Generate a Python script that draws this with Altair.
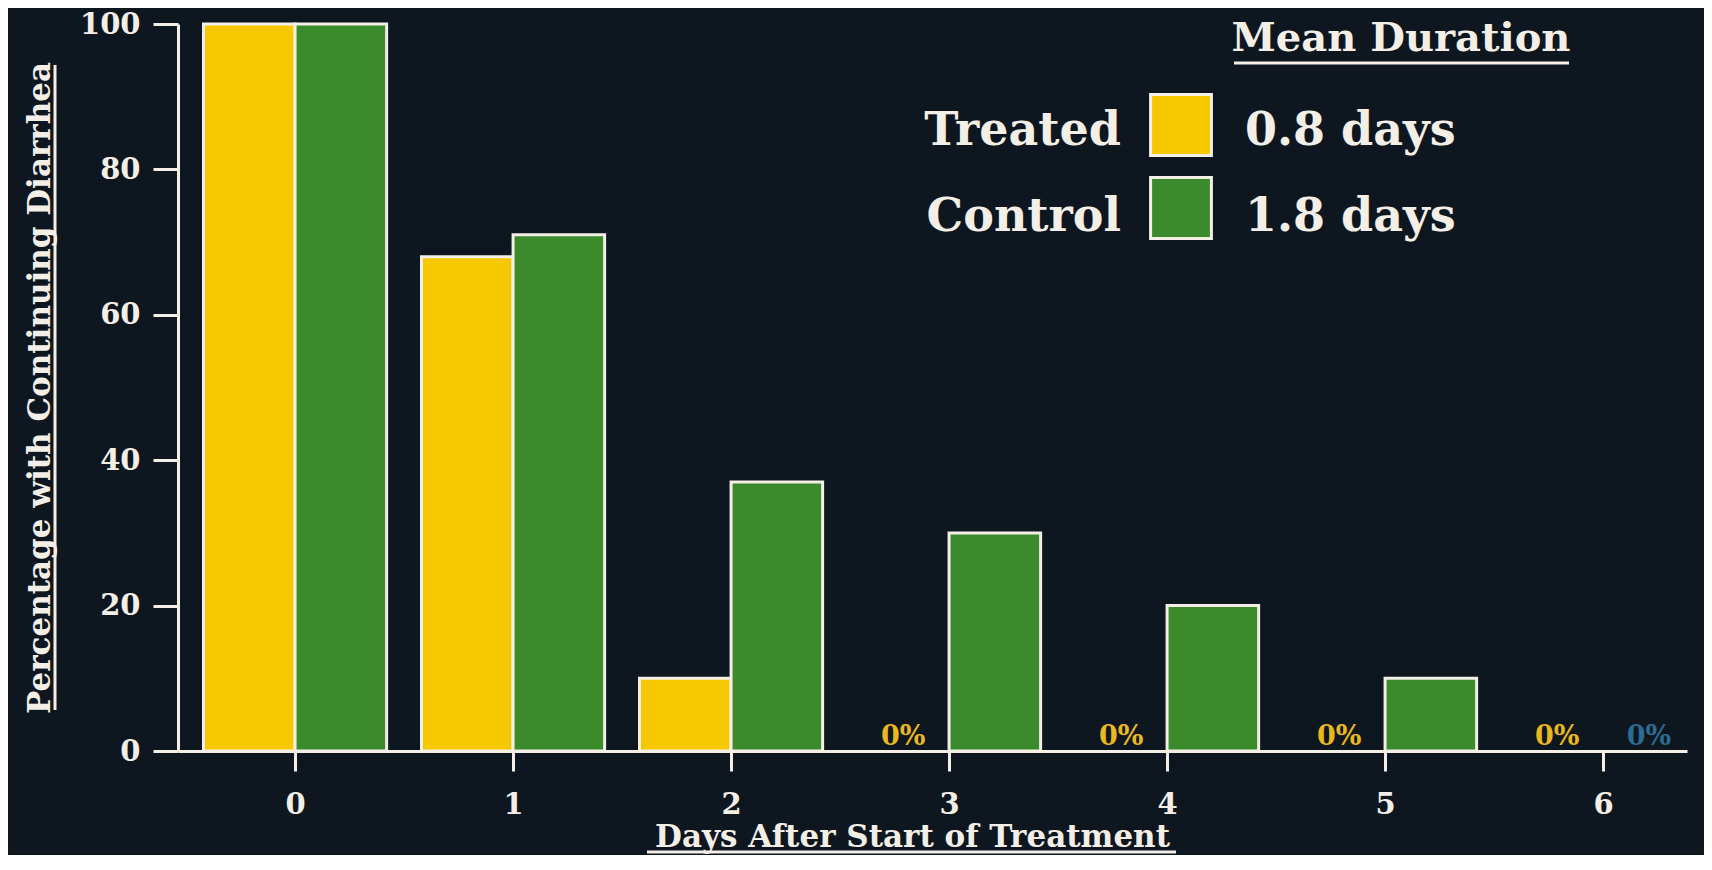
import altair as alt
import pandas as pd

# ---- data ----
days = [0, 1, 2, 3, 4, 5, 6]
treated = [100, 68, 10, 0, 0, 0, 0]
control = [100, 71, 37, 30, 20, 10, 0]
series_names = ["Treated", "Control"]
mean_duration = ["0.8 days", "1.8 days"]
y_ticks = [0, 20, 40, 60, 80, 100]

bar_colors = ["#f6c800", "#3b8a2b"]
zero_label_colors = ["#e9b81e", "#2c6b92"]

rows = []
for d, t, c in zip(days, treated, control):
    rows.append({"day": d, "series": series_names[0], "value": t})
    rows.append({"day": d, "series": series_names[1], "value": c})
df = pd.DataFrame(rows)

FONT = "DejaVu Serif"
TXT = "#f3efe7"
BG = "#0e1620"
HALF = 0.42

x_scale = alt.Scale(domain=[-0.537, 6.385], nice=False, zero=False)
y_scale = alt.Scale(domain=[0, 100], nice=False)

base = alt.Chart(df).transform_calculate(
    x0=f"datum.series == '{series_names[0]}' ? datum.day - {HALF} : datum.day",
    x1=f"datum.series == '{series_names[0]}' ? datum.day : datum.day + {HALF}",
)

x_axis = alt.Axis(
    values=days, format="d", grid=False,
    title="Days After Start of Treatment",
    titleFont=FONT, titleFontSize=31, titleFontWeight="bold", titleColor=TXT,
    titleBaseline="alphabetic", titleAlign="center", titleX=734, titleY=95, titleAngle=0,
    labelFont=FONT, labelFontSize=29, labelFontWeight="bold", labelColor=TXT,
    labelPadding=19, tickSize=20, tickWidth=3, tickColor=TXT,
    domainColor=TXT, domainWidth=3, labelFlush=False,
)
y_axis = alt.Axis(
    values=y_ticks, grid=False,
    title="Percentage with Continuing Diarrhea",
    titleFont=FONT, titleFontSize=31, titleFontWeight="bold", titleColor=TXT,
    titleAngle=270, titleBaseline="alphabetic", titleAlign="center",
    titleX=-129, titleY=363.5,
    labelFont=FONT, labelFontSize=29, labelFontWeight="bold", labelColor=TXT,
    labelPadding=13, tickSize=25, tickWidth=3, tickColor=TXT,
    domainColor=TXT, domainWidth=3, labelFlush=False,
)

bars = base.transform_filter("datum.value > 0").mark_bar(
    stroke=TXT, strokeWidth=3
).encode(
    x=alt.X("x0:Q", scale=x_scale, axis=x_axis),
    x2="x1:Q",
    y=alt.Y("value:Q", scale=y_scale, axis=y_axis),
    y2=alt.datum(0),
    color=alt.Color("series:N", scale=alt.Scale(domain=series_names, range=bar_colors), legend=None),
)

zeros = base.transform_filter("datum.value == 0").transform_calculate(
    xc="(datum.x0 + datum.x1) / 2", label="'0%'"
).mark_text(
    font=FONT, fontSize=27, fontWeight="bold", baseline="alphabetic", align="center", dy=-6
).encode(
    x=alt.X("xc:Q", scale=x_scale),
    y=alt.Y("value:Q", scale=y_scale),
    text="label:N",
    color=alt.Color("series:N", scale=alt.Scale(domain=series_names, range=zero_label_colors), legend=None),
)

def txt(s, x, y, size, align="left"):
    return alt.Chart(pd.DataFrame({"t": [s]})).mark_text(
        font=FONT, fontSize=size, fontWeight="bold", color=TXT,
        baseline="alphabetic", align=align,
    ).encode(x=alt.value(x), y=alt.value(y), text="t:N")

def hrule(x1, x2, y):
    return alt.Chart(pd.DataFrame({"a": [0]})).mark_rule(color=TXT, strokeWidth=3).encode(
        x=alt.value(x1), x2=alt.value(x2), y=alt.value(y))

def vrule(x, y1, y2):
    return alt.Chart(pd.DataFrame({"a": [0]})).mark_rule(color=TXT, strokeWidth=3).encode(
        x=alt.value(x), y=alt.value(y1), y2=alt.value(y2))

def square(color, x, y):
    return alt.Chart(pd.DataFrame({"a": [0]})).mark_square(
        size=3700, fill=color, stroke=TXT, strokeWidth=3, opacity=1, filled=True
    ).encode(x=alt.value(x), y=alt.value(y))

legend = [
    txt("Mean Duration", 1223, 27, 40, "center"),
    hrule(1056, 1391, 39),
    txt(series_names[0], 943, 121, 46, "right"),
    txt(series_names[1], 943, 207, 46, "right"),
    square(bar_colors[0], 1003, 101),
    square(bar_colors[1], 1003, 184),
    txt(mean_duration[0], 1067, 121, 46, "left"),
    txt(mean_duration[1], 1067, 207, 46, "left"),
    hrule(469, 998, 828),   # x-title underline (727 + 101)
    vrule(-123, 41, 686),   # y-title underline
]

chart = alt.layer(bars, zeros, *legend).resolve_scale(color="independent").properties(
    width=1509, height=727,
    autosize=alt.AutoSizeParams(type="none"),
    padding={"left": 170, "top": 16, "right": 17, "bottom": 104},
    background=BG,
).configure_view(stroke=None)

chart.save("out.html", embed_options={"renderer": "svg", "actions": False})
